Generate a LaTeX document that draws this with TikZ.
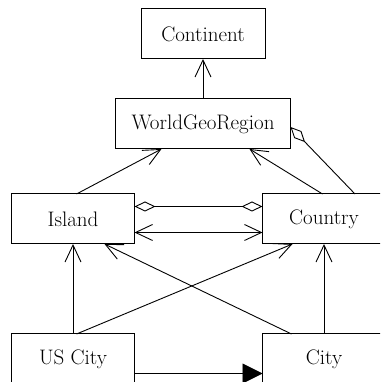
\documentclass[tikz,border=0pt]{standalone}
\usepackage{tikz}
\usetikzlibrary{positioning,arrows.meta}

\begin{document}
\begin{tikzpicture}[x=1pt, y=1pt,
  cls/.style={rectangle, draw=black, line width=1pt, fill=white,
              font=\fontsize{21}{25}\selectfont, minimum width=123pt,
              minimum height=50pt, inner sep=0pt, outer sep=0pt, align=center},
  gen/.style={-{Straight Barb[length=17pt, width=16pt]}, line width=0.9pt},
  both/.style={{Straight Barb[length=17pt, width=16pt]}-{Straight Barb[length=17pt, width=16pt]}, line width=0.9pt},
  agg/.style={-{Diamond[open, length=21pt, width=10pt]}, line width=0.9pt},
  aggb/.style={{Diamond[open, length=21pt, width=10pt]}-{Diamond[open, length=21pt, width=10pt]}, line width=0.9pt},
  nav/.style={-{Triangle[length=20pt, width=20pt]}, line width=0.9pt}
]
\clip (0,0) rectangle (380,382);

\node[cls, minimum width=124pt] (continent) at (203,348) {Continent};
\node[cls, minimum width=175pt, below=40pt of continent] (wgr) {WorldGeoRegion};

\node[cls, below=45pt of wgr, xshift=-130pt] (island)  {Island};
\node[cls, below=45pt of wgr, xshift=121pt]  (country) {Country};

\node[cls, below=90pt of island]  (uscity) {US City};
\node[cls, below=90pt of country] (city)   {City};

% generalisations
\draw[gen] (wgr.north) -- (continent.south);
\draw[gen] ([xshift=3.5pt]island.north) -- ([xshift=-41.5pt]wgr.south);
\draw[gen] ([xshift=-1.5pt]country.north) -- ([xshift=46.5pt]wgr.south);
\draw[agg] ([xshift=31pt]country.north) -- ([yshift=-3pt]wgr.east);

% island / country
\draw[aggb] ([yshift=12.5pt]island.east) -- ([yshift=12.5pt]country.west);
\draw[both] ([yshift=-13.5pt]island.east) -- ([yshift=-13.5pt]country.west);

% cities
\draw[gen] (uscity.north) -- (island.south);
\draw[gen] ([xshift=3.5pt]uscity.north) -- ([xshift=-31.5pt]country.south);
\draw[gen] ([xshift=-32.5pt]city.north) -- ([xshift=31.5pt]island.south);
\draw[gen] (city.north) -- (country.south);
\draw[nav] ([yshift=-14.5pt]uscity.east) -- ([yshift=-14.5pt]city.west);

\end{tikzpicture}
\end{document}
